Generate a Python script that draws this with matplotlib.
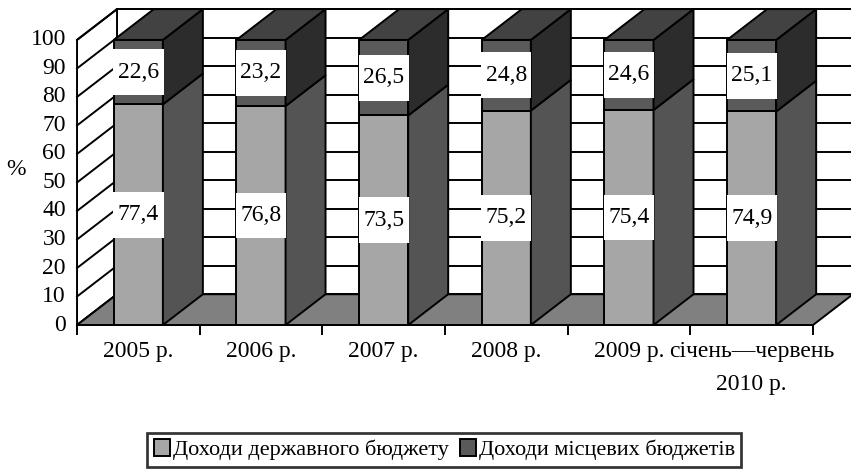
import matplotlib.pyplot as plt
from matplotlib.patches import Polygon, Rectangle, Patch

plt.rcParams['font.family'] = ['Liberation Serif', 'DejaVu Serif']

# shares of budget revenues, %
periods = ['2005 р.', '2006 р.', '2007 р.', '2008 р.', '2009 р.', 'січень—червень\n2010 р.']
state_share = [77.4, 76.8, 73.5, 75.2, 75.4, 74.9]
local_share = [22.6, 23.2, 26.5, 24.8, 24.6, 25.1]
y_ticks = [0, 10, 20, 30, 40, 50, 60, 70, 80, 90, 100]
series_names = ['Доходи державного бюджету', 'Доходи місцевих бюджетів']

c_state = '#a6a6a6'
c_state_side = '#545454'
c_local = '#5a5a5a'
c_local_side = '#2c2c2c'
c_top = '#424242'
c_floor = '#808080'

lw = 1.4
fs = 17
n = len(periods)
dx, dy = 0.326, 10.8   # depth offset of the pseudo-3D box
bw = 0.4

fig = plt.figure(figsize=(8.51, 4.75), dpi=100)
ax = fig.add_axes([0, 0, 1, 1])
ax.set_xlim(-0.628, 6.31)
ax.set_ylim(-52.6, 114.0)
ax.axis('off')


def face(pts, color, z=2):
    ax.add_patch(Polygon(pts, closed=True, fc=color, ec='black', lw=lw,
                         joinstyle='miter', zorder=z))


# back wall with gridlines
face([(dx, dy), (n + dx, dy), (n + dx, 100 + dy), (dx, 100 + dy)], 'white', 1)
for t in y_ticks:
    ax.plot([dx, n + dx], [t + dy, t + dy], color='black', lw=lw, zorder=1.1)

# left wall with gridlines
face([(0, 0), (0, 100), (dx, 100 + dy), (dx, dy)], 'white', 1.2)
for t in y_ticks:
    ax.plot([0, dx], [t, t + dy], color='black', lw=lw, zorder=1.3)
    ax.text(-0.09, t, str(t), ha='right', va='center', fontsize=fs)

# floor
face([(0, 0), (n, 0), (n + dx, dy), (dx, dy)], c_floor, 1.4)

# front axis with category ticks
ax.plot([0, n], [0, 0], color='black', lw=lw, zorder=5)
for i in range(n + 1):
    ax.plot([i, i], [0, -3], color='black', lw=lw, zorder=5)
for i, lab in enumerate(periods):
    ax.text(i + 0.5, -5.5, lab, ha='center', va='top', fontsize=fs, linespacing=1.75)

ax.text(-0.5, 54.5, '%', ha='center', va='center', fontsize=fs)

# stacked pseudo-3D bars
for i in range(n):
    s, l = state_share[i], local_share[i]
    tot = s + l
    x0 = i + 0.5 - bw / 2
    x1 = x0 + bw
    face([(x0, 0), (x1, 0), (x1, s), (x0, s)], c_state, 3)
    face([(x0, s), (x1, s), (x1, tot), (x0, tot)], c_local, 3)
    face([(x1, 0), (x1, s), (x1 + dx, s + dy), (x1 + dx, dy)], c_state_side, 3)
    face([(x1, s), (x1, tot), (x1 + dx, tot + dy), (x1 + dx, s + dy)], c_local_side, 3)
    face([(x0, tot), (x1, tot), (x1 + dx, tot + dy), (x0 + dx, tot + dy)], c_top, 3)

    for v, yc in ((s, s / 2), (l, s + l / 2)):
        ax.add_patch(Rectangle((x0 - 0.005, yc - 8), bw + 0.01, 16,
                               fc='white', ec='none', zorder=4))
        ax.text(i + 0.5, yc, f'{v:.1f}'.replace('.', ','), ha='center',
                va='center', fontsize=fs, zorder=5)

handles = [Patch(fc=c_state, ec='black', lw=lw), Patch(fc=c_local, ec='black', lw=lw)]
leg = fig.legend(handles, series_names, loc='center', bbox_to_anchor=(0.522, 0.053),
                 ncol=2, fontsize=16, frameon=True, fancybox=False, borderpad=0.3,
                 handlelength=0.75, handleheight=0.75, handletextpad=0.1,
                 columnspacing=0.5, borderaxespad=0)
leg.get_frame().set_edgecolor('black')
leg.get_frame().set_linewidth(lw * 1.4)

fig.savefig('out.png', dpi=100)
